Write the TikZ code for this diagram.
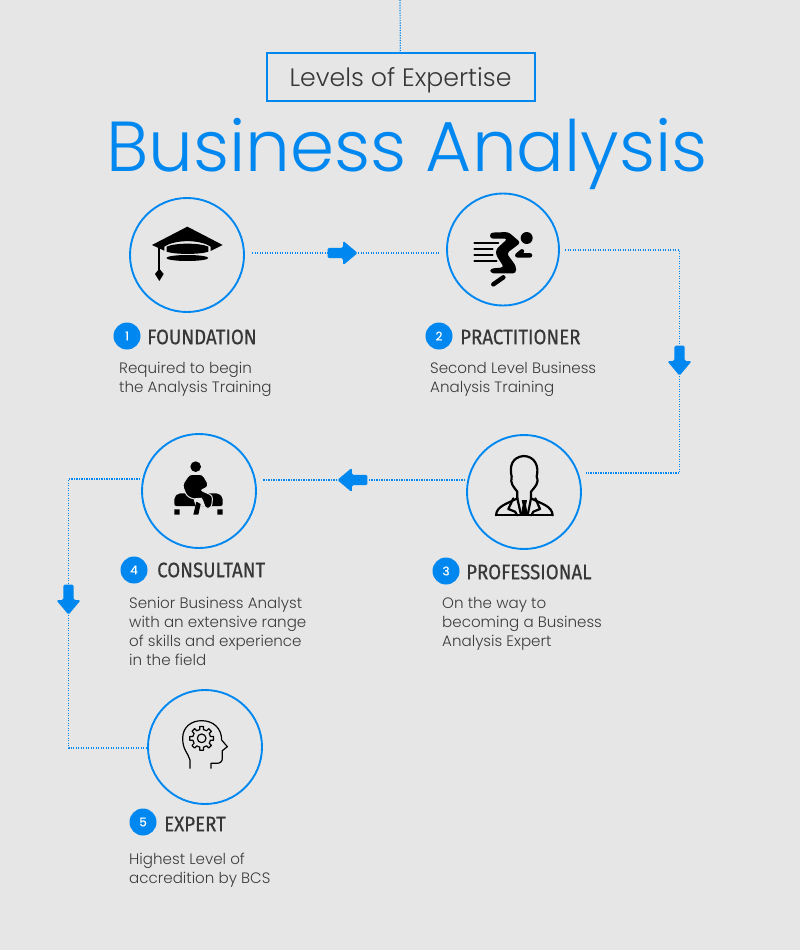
\documentclass[tikz,border=0pt]{standalone}
\usepackage{fontspec}
\setmainfont{Poppins}[UprightFont=* Light]
\newfontfamily\bodyfont[FakeBold=0.4]{Poppins}
\newfontfamily\headfont[FakeStretch=0.89,FakeBold=0.5]{Fira Sans}
\usetikzlibrary{shapes.arrows}
\definecolor{bablue}{RGB}{0,136,240}
\definecolor{bagray}{RGB}{230,230,230}
\definecolor{batext}{RGB}{60,60,60}
\definecolor{bahead}{RGB}{55,55,55}
\tikzset{
	levelcircle/.style={circle,draw=bablue,line width=1.9pt,minimum size=114pt,inner sep=0pt},
	badge/.style={circle,fill=bablue,text=white,minimum size=27pt,inner sep=0pt,font=\bodyfont\fontsize{12}{12}\selectfont},
	levelname/.style={anchor=west,inner sep=0pt,text=bahead,font=\headfont\fontsize{21}{21}\selectfont},
	leveltext/.style={anchor=north west,align=left,inner sep=0pt,text=batext,font=\fontsize{15.1}{19}\selectfont},
	dotlink/.style={bablue,line width=1.2pt,dash pattern=on 1.2pt off 1.3pt},
	flow/.style={single arrow,fill=bablue,anchor=tip,minimum height=30pt,minimum width=24pt,inner sep=5pt,
		single arrow head extend=7pt,single arrow tip angle=80,rounded corners=1.5pt},
	ink/.style={line cap=round,line join=round},
}
\begin{document}
\begin{tikzpicture}[x=1pt,y=-1pt]
	\useasboundingbox (0,0) rectangle (800,950);
	\fill[bagray] (0,0) rectangle (800,950);
	% title
	\coordinate (topend) at (400,0);
	\node[draw=bablue,line width=2pt,minimum width=268pt,minimum height=47pt,inner sep=0pt,text=bahead,font=\fontsize{25.2}{25}\selectfont] (boxtitle) at (400.5,77) {\raisebox{-9.5pt}[0pt][0pt]{Levels of Expertise}};
	\node[text=bablue,inner sep=0pt,font=\fontsize{70.8}{70.8}\selectfont] (bigtitle) at (407,153.5) {Business Analysis};
	\draw[dotlink] (topend) -- (boxtitle);
	% circles
	\node[levelcircle] (foundation) at (187,255) {};
	\node[levelcircle,minimum size=112pt] (practitioner) at (503,249.5) {};
	\node[levelcircle] (professional) at (524,492) {};
	\node[levelcircle] (consultant) at (199,491) {};
	\node[levelcircle] (expert) at (205,747) {};
	% labels
	\node[badge] (b1) at (127,336) {1};
	\node[levelname] (n1) at (147,337) {FOUNDATION};
	\node[leveltext] (t1) at (119,362) {Required to begin\\the Analysis Training};
	\node[badge] (b2) at (439,336) {2};
	\node[levelname] (n2) at (460,337) {PRACTITIONER};
	\node[leveltext] (t2) at (430,362) {Second Level Business\\Analysis Training};
	\node[badge] (b3) at (446,571) {3};
	\node[levelname] (n3) at (466,572) {PROFESSIONAL};
	\node[leveltext] (t3) at (442,597) {On the way to\\becoming a Business\\Analysis Expert};
	\node[badge] (b4) at (134,570) {4};
	\node[levelname] (n4) at (157,570) {CONSULTANT};
	\node[leveltext] (t4) at (129,597) {Senior Business Analyst\\with an extensive range\\of skills and experience\\in the field};
	\node[badge] (b5) at (143,822) {5};
	\node[levelname] (n5) at (164,824) {EXPERT};
	\node[leveltext] (t5) at (129,853) {Highest Level of\\accredition by BCS};
	% connectors
	\coordinate (p1e) at (252,253);
	\coordinate (p2w) at (439,253);
	\coordinate (p2e) at (565,250);
	\coordinate (p3e) at (586,473);
	\coordinate (p3w) at (465,480);
	\coordinate (p4e) at (262,480);
	\coordinate (p4w) at (140,479);
	\coordinate (p5w) at (146,748);
	\node[flow] (arrowa) at (358,253) {};
	\node[flow,shape border rotate=270] (arrowb) at (679.5,376) {};
	\node[flow,shape border rotate=180] (arrowc) at (337,480) {};
	\node[flow,shape border rotate=270] (arrowd) at (68.5,615) {};
	\draw[dotlink] (p1e) -- (arrowa) -- (p2w);
	\draw[dotlink] (p2e) -| (arrowb) |- (p3e);
	\draw[dotlink] (p3w) -- (arrowc) -- (p4e);
	\draw[dotlink] (p4w) -| (arrowd) |- (p5w);
	% cap
	\begin{scope}[shift={(120,190)},scale=1/3]
		\fill (202,110) -- (308,165) -- (272,183) -- (272,170) .. controls (240,148) and (165,148) .. (133,170) -- (133,182) -- (96,165) -- cycle;
		\fill (140,170) .. controls (165,158) and (240,158) .. (265,170) -- (265,185) .. controls (240,194) and (165,194) .. (140,185) -- cycle;
		\fill (202,204) ellipse [x radius=63,y radius=9];
		\draw[line width=2pt] (118,172) -- (118,240);
		\fill (118,236) -- (131,252) -- (118,273) -- (105,252) -- cycle;
	\end{scope}
	% runner
	\begin{scope}[shift={(440,190)},scale=1/3,ink]
		\fill (260,144) circle [radius=18];
		\draw[line width=1.8pt] (103,158) -- (175,158) (103,176) -- (158,176) (103,194) -- (158,194) (103,212) -- (170,212);
		\draw[line width=4.5pt] (232,196) -- (270,196) (232,196) -- (246,184) (160,283) -- (190,262);
		\fill[rounded corners=3pt] (150,128) -- (205,126) -- (242,158) -- (200,190) -- (228,228) -- (228,250) -- (152,250) -- (150,236) -- (192,232) -- (168,195) -- (168,178) -- (203,146) -- (150,146) -- cycle;
	\end{scope}
	% professional
	\begin{scope}[shift={(460,430)},scale=1/3,ink,line width=2.2pt]
		\draw (172,205) -- (172,185) .. controls (160,170) and (150,160) .. (155,140) .. controls (148,110) and (155,82) .. (190,78) .. controls (225,78) and (238,110) .. (230,140) .. controls (238,160) and (225,170) .. (213,185) -- (213,205);
		\draw (108,256) .. controls (110,228) and (140,222) .. (172,205) (278,256) .. controls (276,228) and (246,222) .. (213,205);
		\draw (108,256) -- (278,256);
		\draw (160,205) -- (145,237) -- (165,245) -- (172,256) (226,205) -- (240,237) -- (220,245) -- (214,256);
		\draw (172,205) -- (182,250) (213,205) -- (204,250);
		\fill (185,210) -- (201,210) -- (198,225) -- (204,256) -- (182,256) -- (188,225) -- cycle;
	\end{scope}
	% consultant
	\begin{scope}[shift={(135,430)},scale=1/3]
		\fill (182,110) circle [radius=16];
		\fill[rounded corners=2pt] (118,228) -- (118,202) -- (130,190) -- (250,190) -- (263,202) -- (263,228) -- cycle;
		\fill (118,238) rectangle (134,254) (247,238) rectangle (263,254);
		\filldraw[draw=bagray,line width=1pt,rounded corners=3pt] (163,133) -- (203,133) -- (221,165) -- (212,176) -- (195,180) -- (233,197) -- (230,232) -- (212,237) -- (200,203) -- (176,208) -- (155,198) -- (142,165) -- cycle;
		\fill[bagray] (176,208) -- (200,203) -- (210,228) -- (182,228) -- cycle;
		\fill (175,254) -- (184,215) -- (197,222) -- (190,254) -- cycle;
	\end{scope}
	% expert
	\begin{scope}[shift={(140,685)},scale=1/3,line width=1.2pt,ink]
		\draw (150,250) -- (150,225) .. controls (145,205) and (128,195) .. (128,160) .. controls (128,125) and (155,107) .. (185,107) .. controls (220,107) and (245,130) .. (245,165) -- (262,185) -- (247,197) -- (247,220) .. controls (247,230) and (240,235) .. (230,235) -- (213,235) -- (213,250);
		\draw (185,160) circle [radius=13];
		\draw[shift={(185,160)}] (-12:27) \foreach \a in {0,45,...,315} {
			-- (\a-12:27) -- (\a-9:36) -- (\a+9:36) -- (\a+12:27) } -- cycle;
	\end{scope}
\end{tikzpicture}
\end{document}
